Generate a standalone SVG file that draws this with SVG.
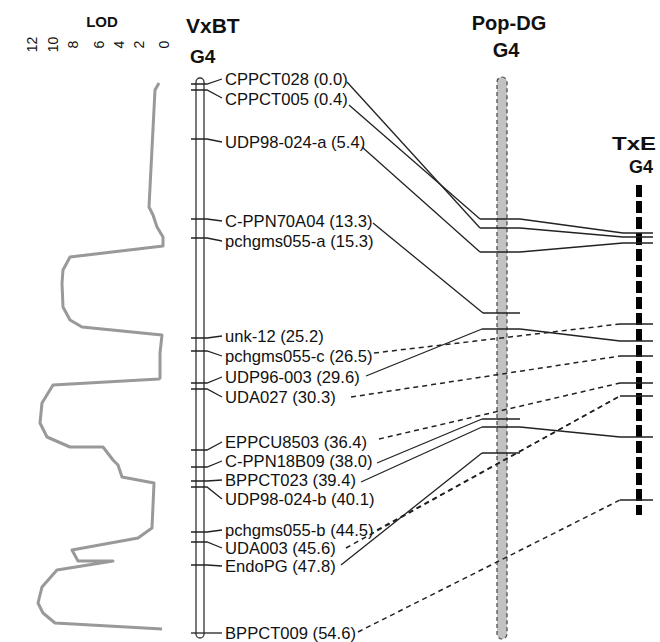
<svg xmlns="http://www.w3.org/2000/svg" width="660" height="642" viewBox="0 0 660 642">
<style>
text{font-family:"Liberation Sans",Arial,sans-serif;fill:#111}
.lbl{font-size:16.6px}
.hd{font-weight:bold}
.num{font-size:14px}
.tk{stroke:#222;stroke-width:1.3;fill:none}
.c{stroke:#222;stroke-width:1.3;fill:none}
.d{stroke:#222;stroke-width:1.5;fill:none;stroke-dasharray:5 4}
</style>
<rect width="660" height="642" fill="#fff"/>

<g id="lod">
<text class="hd" x="102" y="27" font-size="15" text-anchor="middle">LOD</text>
<g class="num">
<text transform="translate(37,44.5) rotate(-90)" text-anchor="middle">12</text>
<text transform="translate(58,44.5) rotate(-90)" text-anchor="middle">10</text>
<text transform="translate(78,44.5) rotate(-90)" text-anchor="middle">8</text>
<text transform="translate(104,44.5) rotate(-90)" text-anchor="middle">6</text>
<text transform="translate(124,44.5) rotate(-90)" text-anchor="middle">4</text>
<text transform="translate(144,44.5) rotate(-90)" text-anchor="middle">2</text>
<text transform="translate(169,44.5) rotate(-90)" text-anchor="middle">0</text>
</g>
<polyline fill="none" stroke="#999" stroke-width="3" stroke-linejoin="round" points="159,83 155,90 149,207 153,215 157,227 163,237 163,246 70,257 63,270 62,283 63,307 70,320 82,327 162,335 160,353 160,378 159,379 53,385 42,403 40,423 47,437 70,447 103,447 113,460 118,465 122,477 154,483 152,528 138,538 72,550 78,561 113,561 57,570 42,587 38,603 43,613 55,623 162,629"/>
</g>

<g id="VxBT">
<text class="hd" x="186" y="33" font-size="21">VxBT</text>
<text class="hd" x="190" y="63" font-size="19">G4</text>
<rect x="196" y="78" width="8" height="560" rx="4" fill="#fff" stroke="#333" stroke-width="1.3"/>
</g>

<g id="markers-vxbt">
<g id="m-CPPCT028"><path class="tk" d="M191,84H207L222,79"/><text class="lbl" x="225" y="85">CPPCT028 (0.0)</text></g>
<g id="m-CPPCT005"><path class="tk" d="M191,90H207L222,98"/><text class="lbl" x="225" y="105">CPPCT005 (0.4)</text></g>
<g id="m-UDP98-024-a"><path class="tk" d="M191,139H207L222,142"/><text class="lbl" x="225" y="148">UDP98-024-a (5.4)</text></g>
<g id="m-C-PPN70A04"><path class="tk" d="M191,219H207L222,221"/><text class="lbl" x="225" y="227">C-PPN70A04 (13.3)</text></g>
<g id="m-pchgms055-a"><path class="tk" d="M191,238H207L222,241"/><text class="lbl" x="225" y="247">pchgms055-a (15.3)</text></g>
<g id="m-unk-12"><path class="tk" d="M191,338H207L222,336"/><text class="lbl" x="225" y="342">unk-12 (25.2)</text></g>
<g id="m-pchgms055-c"><path class="tk" d="M191,351H207L222,356"/><text class="lbl" x="225" y="362">pchgms055-c (26.5)</text></g>
<g id="m-UDP96-003"><path class="tk" d="M191,383H207L222,377"/><text class="lbl" x="225" y="383">UDP96-003 (29.6)</text></g>
<g id="m-UDA027"><path class="tk" d="M191,389H207L222,397"/><text class="lbl" x="225" y="403">UDA027 (30.3)</text></g>
<g id="m-EPPCU8503"><path class="tk" d="M191,450H207L222,442"/><text class="lbl" x="225" y="448">EPPCU8503 (36.4)</text></g>
<g id="m-C-PPN18B09"><path class="tk" d="M191,467H207L222,461"/><text class="lbl" x="225" y="467">C-PPN18B09 (38.0)</text></g>
<g id="m-BPPCT023"><path class="tk" d="M191,481H207L222,480"/><text class="lbl" x="225" y="486">BPPCT023 (39.4)</text></g>
<g id="m-UDP98-024-b"><path class="tk" d="M191,487H207L222,499"/><text class="lbl" x="225" y="505">UDP98-024-b (40.1)</text></g>
<g id="m-pchgms055-b"><path class="tk" d="M191,532H207L222,530"/><text class="lbl" x="225" y="536">pchgms055-b (44.5)</text></g>
<g id="m-UDA003"><path class="tk" d="M191,542H207L222,548"/><text class="lbl" x="225" y="554">UDA003 (45.6)</text></g>
<g id="m-EndoPG"><path class="tk" d="M191,565H207L222,566"/><text class="lbl" x="225" y="572">EndoPG (47.8)</text></g>
<g id="m-BPPCT009"><path class="tk" d="M191,633H207L222,633"/><text class="lbl" x="225" y="639">BPPCT009 (54.6)</text></g>
</g>

<g id="PopDG">
<text class="hd" x="509" y="30" font-size="20" text-anchor="middle">Pop-DG</text>
<text class="hd" x="506" y="57" font-size="20" text-anchor="middle">G4</text>
<rect x="497" y="77" width="10" height="562" rx="5" fill="#c2c2c2" stroke="#444" stroke-width="1.2" stroke-dasharray="4 3"/>
<path class="tk" d="M480,219H520M480,228H520M480,252H520M483,313H520M482,329H520M482,419H520M482,427H520M482,453H520"/>
</g>

<g id="TxE">
<text class="hd" x="612" y="150" font-size="18" textLength="44" lengthAdjust="spacingAndGlyphs">TxE</text>
<text class="hd" x="641" y="173" font-size="18" text-anchor="middle">G4</text>
<line x1="639" y1="185" x2="639" y2="515" stroke="#000" stroke-width="6" stroke-dasharray="12 4"/>
<path class="tk" d="M623,233H653M623,237H653M623,243H653M620,324H653M620,341H653M620,356H653M620,383H653M620,396H653M620,437H653M620,500H653"/>
</g>

<g id="connectors">
<path class="c" d="M347,82L480,228"/>
<path class="c" d="M349,105L480,219"/>
<path class="c" d="M362,147L480,252"/>
<path class="c" d="M373,223L483,313"/>
<path class="c" d="M366,376L482,329"/>
<path class="c" d="M377,463L482,419"/>
<path class="c" d="M361,482L482,427"/>
<path class="c" d="M341,565L482,453"/>
<path class="c" d="M520,219L623,233"/>
<path class="c" d="M520,228L623,237"/>
<path class="c" d="M520,252L623,243"/>
<path class="c" d="M520,329L620,341"/>
<path class="c" d="M520,427L620,437"/>
<path class="d" d="M374,353L620,324"/>
<path class="d" d="M351,397L620,356"/>
<path class="d" d="M379,439L620,383"/>
<path class="d" d="M377,530L620,396"/>
<path class="d" d="M346,548L620,396"/>
<path class="d" d="M358,632L620,500"/>
</g>
</svg>
